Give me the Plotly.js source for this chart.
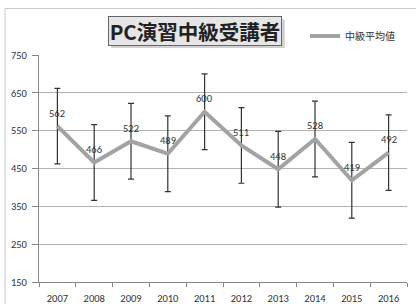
<!DOCTYPE html>
<html>
<head>
<meta charset="utf-8">
<script src="https://cdn.plot.ly/plotly-3.0.1.min.js"></script>
<style>html,body{margin:0;padding:0;background:#fff;}#chart{width:416px;height:304px;}</style>
</head>
<body>
<div id="chart"></div>
<script>
const years = ['2007','2008','2009','2010','2011','2012','2013','2014','2015','2016'];
const averages = [562, 466, 522, 489, 600, 511, 448, 528, 419, 492];
const errors = [100, 100, 100, 100, 100, 100, 100, 100, 100, 100];
const yTicks = [150, 250, 350, 450, 550, 650, 750];
const seriesName = '中級平均値';
const chartTitle = 'PC演習中級受講者';

const FONT = 'Calibri, "Liberation Sans", "Noto Sans CJK JP", sans-serif';

const trace = {
  x: years,
  y: averages,
  name: seriesName,
  type: 'scatter',
  mode: 'lines',
  line: {color: '#a3a3a3', width: 4},
  error_y: {type: 'data', array: errors, visible: true, color: '#333', thickness: 1.2, width: 3},
  cliponaxis: false
};

// category index positions (category axis), values from the data arrays
const labelAnnotations = years.map((yr, i) => ({
  x: i, y: averages[i], xref: 'x', yref: 'y', yshift: 13,
  text: String(averages[i]), showarrow: false,
  font: {family: FONT, size: 10.5, color: '#333'}
}));

const layout = {
  width: 416, height: 304,
  margin: {l: 39, r: 9, t: 55, b: 22},
  paper_bgcolor: '#fff', plot_bgcolor: '#fff',
  font: {family: FONT, size: 10, color: '#333'},
  showlegend: true,
  legend: {x: 0.723, y: 1.084, xanchor: 'left', yanchor: 'middle', bgcolor: 'rgba(0,0,0,0)',
           font: {family: '"Noto Sans CJK JP", sans-serif', size: 10, color: '#333'}, itemwidth: 30},
  xaxis: {type: 'category', categoryarray: years, tickson: 'boundaries', ticks: 'outside', ticklen: 4, tickcolor: '#888',
          range: [-0.5, years.length - 0.5],
          showline: true, linecolor: '#888', linewidth: 1, showgrid: false, zeroline: false,
          ticklabelstandoff: 6,
          tickfont: {family: FONT, size: 10.5, color: '#333'}, fixedrange: true},
  yaxis: {range: [150, 750], tickvals: yTicks, ticks: 'outside', ticklen: 6, tickcolor: '#888',
          showline: true, linecolor: '#888', linewidth: 1, showgrid: true, gridcolor: '#b3b3b3',
          ticklabelstandoff: 3,
          zeroline: false, tickfont: {family: FONT, size: 10.5, color: '#333'}, fixedrange: true},
  shapes: [
    {type: 'rect', xref: 'paper', yref: 'paper', x0: -0.0924, x1: 1.3, y0: -0.3, y1: 1.205,
     line: {color: '#c8c8c8', width: 1}, fillcolor: 'rgba(0,0,0,0)', layer: 'below'},
    {type: 'rect', xref: 'paper', yref: 'paper', x0: 0.196, x1: 0.668, y0: 1.031, y1: 1.158,
     line: {width: 0}, fillcolor: 'rgba(0,0,0,0.18)'}
  ],
  annotations: [
    {xref: 'paper', yref: 'paper', x: 0.4245, y: 1.1057, xanchor: 'center', yanchor: 'middle',
     text: '<b>' + chartTitle + '</b>', showarrow: false, width: 172, height: 28,
     bgcolor: '#e6e6e6', bordercolor: '#666', borderwidth: 1, borderpad: 0,
     font: {family: '"Noto Sans CJK JP", sans-serif', size: 20.5, color: '#222'}}
  ].concat(labelAnnotations)
};

Plotly.newPlot('chart', [trace], layout, {staticPlot: true, displayModeBar: false});
</script>
</body>
</html>
